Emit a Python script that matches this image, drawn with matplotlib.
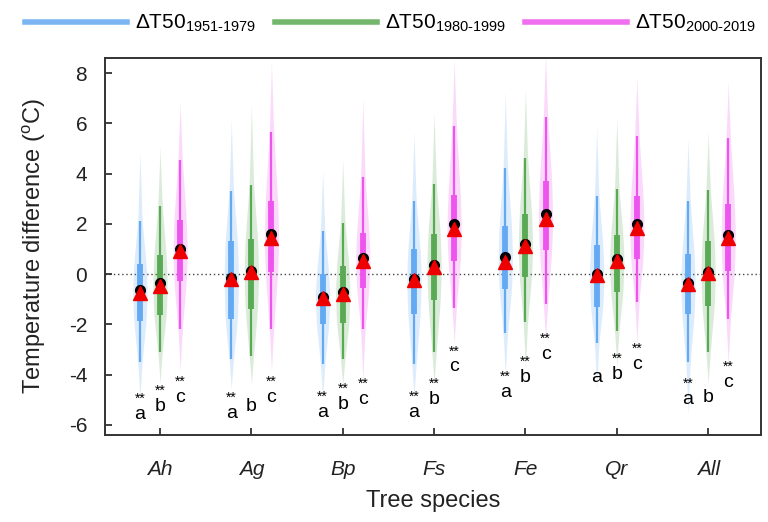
import numpy as np
import matplotlib
matplotlib.use("Agg")
import matplotlib.pyplot as plt
from matplotlib.lines import Line2D

plt.rcParams.update({
    "font.family": ["Liberation Sans", "DejaVu Sans"],
    "mathtext.fontset": "custom",
    "mathtext.rm": "Liberation Sans",
    "mathtext.it": "Liberation Sans:italic",
    "mathtext.default": "regular",
    "axes.unicode_minus": False,
})

#------------------------------ data ------------------------------------------
species = ["Ah", "Ag", "Bp", "Fs", "Fe", "Qr", "All"]
periods = ["1951-1979", "1980-1999", "2000-2019"]
colors = ["#64aaf2", "#5aaa55", "#ee55ee"]

# per period: violin tips, whisker ends, quartiles, mean (black dot), median (red triangle)
tip_hi = [[4.8, 6.1, 4.1, 5.6, 7.2, 5.8, 5.3],
          [5.0, 6.7, 4.5, 6.4, 7.3, 6.2, 5.6],
          [6.8, 8.4, 6.9, 8.5, 8.7, 7.8, 7.6]]
whisk_hi = [[2.1, 3.3, 1.7, 2.9, 4.2, 3.1, 2.9],
            [2.7, 3.55, 2.05, 3.6, 4.6, 3.4, 3.35],
            [4.55, 5.65, 3.85, 5.9, 6.25, 5.5, 5.4]]
q3 = [[0.4, 1.3, 0.0, 1.0, 1.9, 1.15, 0.8],
      [0.75, 1.4, 0.3, 1.6, 2.4, 1.55, 1.3],
      [2.15, 2.9, 1.65, 3.15, 3.7, 3.1, 2.8]]
q1 = [[-1.85, -1.8, -2.0, -1.6, -0.6, -1.3, -1.6],
      [-1.65, -1.4, -1.95, -1.05, -0.1, -0.7, -1.27],
      [-0.28, 0.08, -0.57, 0.52, 0.94, 0.6, 0.12]]
whisk_lo = [[-3.5, -3.4, -3.6, -3.6, -2.35, -2.75, -3.5],
            [-3.1, -3.25, -3.4, -3.1, -1.9, -2.26, -3.1],
            [-2.2, -2.2, -2.2, -1.35, -1.2, -1.1, -1.8]]
tip_lo = [[-4.9, -4.5, -4.9, -4.8, -4.0, -4.5, -5.5],
          [-4.3, -4.3, -4.4, -4.3, -3.7, -3.6, -4.3],
          [-3.8, -3.8, -4.2, -2.7, -2.5, -2.7, -3.6]]
means = [[-0.63, -0.15, -0.9, -0.2, 0.66, 0.0, -0.35],
         [-0.37, 0.12, -0.72, 0.35, 1.2, 0.58, 0.1],
         [1.0, 1.58, 0.62, 1.98, 2.37, 2.0, 1.55]]
medians = [[-0.75, -0.2, -0.95, -0.24, 0.48, -0.04, -0.4],
           [-0.48, 0.08, -0.8, 0.28, 1.1, 0.52, 0.05],
           [0.9, 1.43, 0.52, 1.8, 2.2, 1.83, 1.43]]

# significance letters and where they sit
letters = ["a", "b", "c"]
letter_y = [[-5.6, -5.55, -5.5, -5.5, -4.7, -4.1, -5.0],
            [-5.28, -5.28, -5.2, -5.0, -4.1, -4.0, -4.9],
            [-4.9, -4.9, -5.0, -3.7, -3.2, -3.6, -4.3]]
stars = [[1, 1, 1, 1, 1, 0, 1],
         [1, 0, 1, 1, 1, 1, 0],
         [1, 1, 1, 1, 1, 1, 1]]
#------------------------------------------------------------------------------


def violin_outline(lo, wlo, a, med, b, whi, hi, w):
    # spindle shape built from the summary values
    y = np.linspace(lo, hi, 300)
    knots = [lo, wlo, a, med, b, whi, hi]
    rel = [0.0, 0.3, 0.85, 1.0, 0.85, 0.3, 0.0]
    half = np.interp(y, knots, rel) * w
    k = np.ones(25) / 25
    half = np.convolve(np.pad(half, 12, mode="edge"), k, mode="valid")
    return y, half


fig = plt.figure(figsize=(7.68, 5.22), dpi=100)
ax = fig.add_axes([0.137, 0.167, 0.854, 0.722])

offsets = [-0.22, 0.0, 0.22]
x0 = np.arange(1, len(species) + 1)

ax.axhline(0, color="#444444", lw=1.0, ls=(0, (1, 2)), zorder=1)

for p in range(3):
    c = colors[p]
    for i in range(len(species)):
        x = x0[i] + offsets[p]
        y, half = violin_outline(tip_lo[p][i], whisk_lo[p][i], q1[p][i], medians[p][i],
                                 q3[p][i], whisk_hi[p][i], tip_hi[p][i], 0.08)
        ax.fill_betweenx(y, x - half, x + half, color=c, alpha=0.22, lw=0, zorder=2)
        ax.vlines(x, whisk_lo[p][i], whisk_hi[p][i], color=c, lw=1.6, zorder=3)
        ax.vlines(x, q1[p][i], q3[p][i], color=c, lw=4.2, zorder=3)
        ax.plot(x, means[p][i], "o", color="black", ms=7, zorder=4)
        ax.plot(x, medians[p][i], "^", color="#ee0000", ms=10, zorder=5)
        ax.text(x, letter_y[p][i], letters[p], ha="center", va="center",
                fontsize=14, zorder=6)
        if stars[p][i]:
            ax.text(x, letter_y[p][i] + 0.62, "**", ha="center", va="center",
                    fontsize=10, zorder=6)

ax.set_xlim(0.4, 7.58)
ax.set_ylim(-6.4, 8.6)
ax.set_yticks(np.arange(-6, 9, 2))
ax.set_xticks(x0)
ax.set_xticklabels(species, fontstyle="italic")
ax.tick_params(direction="in", labelsize=15, length=5, width=1.3, color="#333333",
               labelcolor="#222222")
ax.tick_params(axis="x", pad=18)
ax.tick_params(axis="y", pad=13)
for s in ax.spines.values():
    s.set_linewidth(1.4)
    s.set_color("#333333")

ax.set_ylabel("Temperature difference ($^{o}$C)", fontsize=17, color="#222222", labelpad=15)
ax.set_xlabel("Tree species", fontsize=17, color="#222222", labelpad=8)

handles = [Line2D([0], [0], color=c, lw=4.0, alpha=0.85) for c in colors]
labels = [r"$\Delta$T50$_{%s}$" % pr.replace("-", r"\text{-}") for pr in periods]
fig.legend(handles, labels, loc="upper left", bbox_to_anchor=(0.0326, 0.975), ncol=3,
           frameon=False, fontsize=15, handlelength=4.9, handletextpad=0.38,
           columnspacing=0.9, borderaxespad=0, borderpad=0)

fig.savefig("out.png", dpi=100)
